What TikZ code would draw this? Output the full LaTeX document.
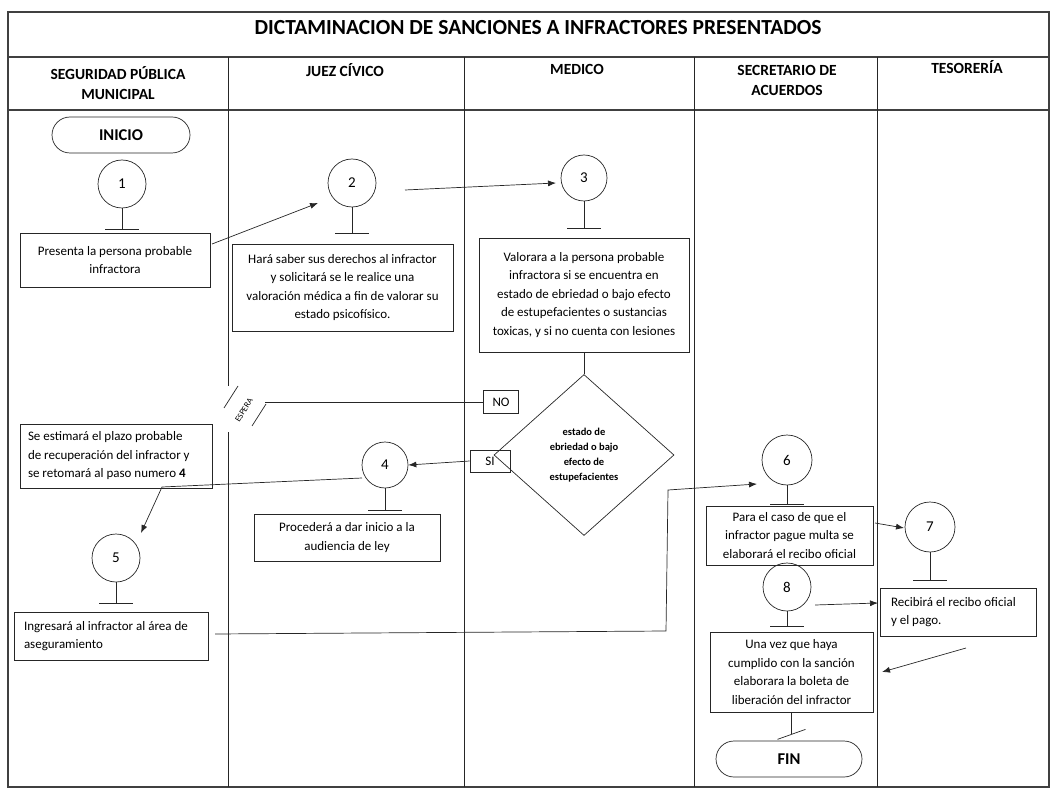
\documentclass[tikz,border=0pt]{standalone}
\usepackage{fontspec}
\setmainfont{Carlito}
\usetikzlibrary{arrows.meta,shapes.geometric}
\begin{document}
\begin{tikzpicture}[x=1pt,y=-1pt,
  ln/.style={draw=black!85, line width=0.7pt},
  frm/.style={draw=black!75, line width=1.1pt},
  circ/.style={circle, ln, minimum size=48pt, inner sep=0pt, font=\fontsize{15}{17}\selectfont},
  box/.style={rectangle, ln, inner sep=0pt, font=\fontsize{13}{18.5}\selectfont, align=center},
  lbox/.style={rectangle, ln, inner sep=0pt, font=\fontsize{13}{18.5}\selectfont, align=flush left},
  term/.style={rectangle, rounded corners=18pt, ln, minimum height=36pt, font=\bfseries\fontsize{16.5}{18}\selectfont},
  hdr/.style={font=\bfseries\fontsize{15.5}{20}\selectfont, align=center},
  lbl/.style={rectangle, ln, inner sep=0pt, font=\fontsize{13}{14}\selectfont},
  arr/.style={ln, -{Latex[length=8pt,width=6pt]}},
]
\useasboundingbox (0,0) rectangle (1056,791);
% frame and lanes
\draw[frm] (8,12) rectangle (1049,787);
\draw[frm] (8,57) -- (1049,57);
\draw[frm] (8,110) -- (1049,110);
\draw[ln] (228,57) -- (228,386);
\draw[ln] (228,432) -- (228,787);
\draw[ln] (464,57) -- (464,787);
\draw[ln] (694,57) -- (694,787);
\draw[ln] (877,57) -- (877,787);
% title and headers
\node[font=\bfseries\fontsize{21.5}{24}\selectfont] (title) at (538,28) {DICTAMINACION DE SANCIONES A INFRACTORES PRESENTADOS};
\node[hdr] (h1) at (118,83) {SEGURIDAD PÚBLICA\\MUNICIPAL};
\node[hdr] (h2) at (345,70) {JUEZ CÍVICO};
\node[hdr] (h3) at (577,69) {MEDICO};
\node[hdr] (h4) at (787,80) {SECRETARIO DE\\ACUERDOS};
\node[hdr] (h5) at (967,67) {TESORERÍA};
% terminals
\node[term, minimum width=138pt] (inicio) at (121,135) {INICIO};
\node[term, minimum width=146pt] (fin) at (789,759) {FIN};
% circles
\node[circ] (c1) at (122,184) {1};
\node[circ] (c2) at (352,183) {2};
\node[circ, minimum size=46pt] (c3) at (584,178) {3};
\node[circ, minimum size=46pt] (c4) at (385,465) {4};
\node[circ] (c5) at (116,558) {5};
\node[circ, minimum size=50pt] (c6) at (787,460) {6};
\node[circ, minimum size=50pt] (c7) at (930,527) {7};
\node[circ] (c8) at (787,587) {8};
% T bars
\foreach \c/\l in {c1/21,c2/26,c3/27,c4/22,c5/21,c6/19,c7/28,c8/15}{
  \draw[ln] (\c.south) -- ++(0,\l) coordinate (t\c);
  \draw[ln] ([xshift=-17pt]t\c) -- ([xshift=17pt]t\c);
}
% boxes
\node[box, minimum width=190pt, minimum height=54pt] (b1) at (115,260) {Presenta la persona probable\\infractora};
\node[box, minimum width=221pt, minimum height=87pt] (b2) at (342.5,287.5) {Hará saber sus derechos al infractor\\y solicitará se le realice una\\valoración médica a fin de valorar su\\estado psicofísico.};
\node[box, minimum width=210pt, minimum height=114pt] (b3) at (584,295) {Valorara a la persona probable\\infractora si se encuentra en\\estado de ebriedad o bajo efecto\\de estupefacientes o sustancias\\toxicas, y si no cuenta con lesiones};
\node[lbox, text width=176pt, minimum width=192pt, minimum height=64pt] (be) at (116,456) {Se estimará el plazo probable\\de recuperación del infractor y\\se retomará al paso numero \textbf{4}};
\node[box, minimum width=186pt, minimum height=47pt] (b4) at (347,537.5) {Procederá a dar inicio a la\\audiencia de ley};
\node[lbox, text width=174pt, minimum width=194pt, minimum height=48pt] (b5) at (111,636) {Ingresará al infractor al área de\\aseguramiento};
\node[box, minimum width=167pt, minimum height=59pt] (b6) at (789.5,535.5) {Para el caso de que el\\infractor pague multa se\\elaborará el recibo oficial};
\node[lbox, text width=134pt, minimum width=156pt, minimum height=48pt] (b7) at (958,612) {Recibirá el recibo oficial\\y el pago.};
\node[box, minimum width=163pt, minimum height=80pt] (b8) at (791.5,672) {Una vez que haya\\cumplido con la sanción\\elaborara la boleta de\\liberación del infractor};
% decision
\node[diamond, ln, minimum width=180pt, minimum height=161pt, inner sep=0pt, align=center,
  font=\bfseries\fontsize{10.5}{15}\selectfont] (d) at (584,455) {estado de\\ebriedad o bajo\\efecto de\\estupefacientes};
\draw[ln] (b3.south) -- (d.north);
\node[lbl, minimum width=35pt, minimum height=23pt] (no) at (501,402) {NO};
\node[lbl, minimum width=40pt, minimum height=22pt] (si) at (490,461) {SI};
% ESPERA
\coordinate (esp) at (265,402);
\draw[ln] (no.west) -- (esp);
\draw[ln] (224,408) -- (238,386);
\draw[ln] (252,426) -- (266,404);
\node[rotate=58, font=\fontsize{8.5}{9}\selectfont, inner sep=0pt] (espera) at (244,410) {ESPERA};
% connectors
\coordinate (p1s) at (212,244); \coordinate (p1e) at (318,203);
\draw[arr] (p1s) -- (p1e);
\coordinate (p2s) at (405,190); \coordinate (p2e) at (556,183);
\draw[arr] (p2s) -- (p2e);
\draw[arr] (si.west) -- (c4.east);
\coordinate (p3s) at (362,478); \coordinate (p3m) at (162,487); \coordinate (p3e) at (141,533);
\draw[arr] (p3s) -- (p3m) -- (p3e);
\coordinate (p4s) at (215,634); \coordinate (p4a) at (666,631); \coordinate (p4b) at (668,490); \coordinate (p4e) at (757,484);
\draw[arr] (p4s) -- (p4a) -- (p4b) -- (p4e);
\coordinate (p5s) at (875,523); \coordinate (p5e) at (904,528);
\draw[arr] (p5s) -- (p5e);
\coordinate (p6s) at (815,605); \coordinate (p6e) at (878,603);
\draw[arr] (p6s) -- (p6e);
\coordinate (p7s) at (966,648); \coordinate (p7e) at (882,672);
\draw[arr] (p7s) -- (p7e);
\draw[ln] (b8.south) -- ++(0,22) coordinate (t8);
\draw[ln] ([shift={(-14pt,-5pt)}]t8) -- ([shift={(14pt,5pt)}]t8);
\end{tikzpicture}
\end{document}
